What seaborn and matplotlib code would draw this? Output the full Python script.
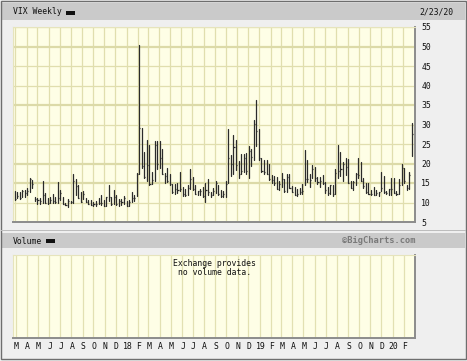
import numpy as np
import pandas as pd
import matplotlib
matplotlib.use("Agg")
import matplotlib.pyplot as plt
import matplotlib.dates as mdates
from matplotlib.patches import Rectangle
import seaborn as sns

# ---------------- data (weekly VIX, week starting Monday) ----------------
start_week = "2017-02-27"
highs = [12.9, 12.6, 12.6, 13.3, 13.1, 13.6, 16.3, 15.8, 11.4, 11.1,
         11.1, 15.6, 12.5, 11.2, 11.3, 12.1, 11.5, 15.2, 13.2, 11.4,
         10.0, 10.9, 10.5, 17.3, 15.9, 14.6, 12.6, 12.9, 11.2, 10.7,
         10.6, 10.1, 10.3, 11.1, 11.9, 10.7, 11.5, 14.5, 11.3, 13.1,
         11.9, 10.9, 10.9, 11.7, 10.3, 10.6, 12.6, 11.8, 17.5, 50.3,
         29.1, 23.0, 26.1, 24.8, 17.8, 25.7, 25.7, 25.8, 23.6, 17.6,
         18.9, 17.3, 14.8, 14.8, 15.1, 17.7, 14.0, 13.4, 14.6, 18.5,
         16.5, 14.4, 13.0, 13.4, 14.1, 14.9, 15.9, 12.8, 13.6, 15.6,
         14.6, 13.1, 12.9, 15.4, 28.8, 22.3, 27.4, 25.9, 20.6, 22.5,
         22.5, 22.7, 24.4, 23.6, 31.2, 36.2, 28.9, 21.5, 20.8, 20.9,
         19.9, 17.0, 16.7, 16.6, 15.6, 17.6, 16.1, 17.4, 17.3, 14.2,
         14.1, 13.4, 13.8, 14.8, 23.4, 20.8, 17.4, 19.7, 19.1, 16.6,
         16.6, 17.0, 15.2, 14.0, 14.5, 14.5, 18.5, 24.8, 22.9, 20.3,
         21.3, 21.2, 15.6, 15.4, 17.5, 21.5, 20.5, 16.2, 15.0, 15.0,
         13.1, 14.0, 13.3, 12.8, 17.9, 16.7, 12.9, 13.5, 16.2, 16.2,
         13.0, 15.9, 19.9, 18.9, 14.6, 17.8, 30.3]
lows = [10.6, 11.2, 11.0, 11.3, 11.5, 11.8, 12.6, 13.6, 10.3, 9.6,
        9.6, 9.9, 9.8, 9.5, 9.8, 9.9, 9.9, 9.9, 10.6, 9.5,
        9.3, 8.8, 9.8, 9.8, 11.8, 11.1, 10.1, 10.8, 10.1, 9.5,
        9.3, 9.1, 9.2, 9.5, 9.4, 9.1, 9.2, 10.4, 9.3, 9.6,
        9.3, 9.2, 9.3, 9.6, 9.1, 9.1, 10.2, 10.5, 11.6, 17.4,
        18.9, 16.3, 15.6, 14.6, 14.8, 15.4, 18.5, 18.9, 17.4, 15.0,
        15.3, 14.5, 12.4, 12.2, 12.4, 13.0, 11.6, 11.6, 11.8, 13.5,
        13.3, 12.1, 11.9, 11.9, 11.4, 10.2, 11.8, 11.5, 11.9, 12.5,
        11.9, 11.5, 11.5, 11.3, 15.0, 16.8, 17.3, 18.4, 16.2, 17.2,
        17.8, 17.4, 16.4, 19.4, 20.8, 24.5, 21.0, 17.9, 17.4, 17.2,
        15.7, 15.0, 14.5, 13.5, 13.3, 14.0, 12.6, 12.7, 13.6, 12.8,
        12.0, 11.6, 12.1, 12.3, 14.4, 15.3, 13.9, 16.2, 15.6, 14.7,
        13.9, 14.7, 12.4, 12.0, 12.1, 11.7, 12.3, 16.4, 16.8, 15.5,
        17.1, 15.0, 13.7, 13.3, 14.4, 16.2, 15.5, 13.8, 12.5, 12.2,
        11.9, 11.9, 11.8, 11.6, 13.0, 12.5, 12.1, 11.8, 12.0, 12.4,
        11.8, 12.1, 14.6, 14.9, 13.3, 13.4, 21.9]
closes = [10.96, 11.66, 11.28, 12.96, 12.37, 12.87, 15.96, 14.63, 10.82, 10.57,
          10.40, 12.04, 9.81, 9.75, 10.70, 10.38, 10.02, 11.18, 12.54, 9.51,
          9.36, 10.29, 10.03, 15.51, 14.26, 11.28, 10.13, 12.12, 10.17, 9.59,
          9.45, 9.65, 9.61, 9.97, 9.80, 9.14, 11.29, 11.43, 9.67, 11.43,
          9.58, 10.49, 10.25, 11.04, 9.22, 10.16, 11.27, 11.08, 17.31, 29.06,
          19.46, 16.49, 19.59, 14.64, 15.80, 24.87, 19.97, 21.49, 17.41, 16.88,
          15.41, 14.77, 12.65, 13.42, 13.22, 13.46, 12.18, 11.98, 13.77, 16.09,
          13.37, 12.18, 12.86, 13.03, 11.64, 13.16, 12.64, 11.99, 12.86, 14.88,
          12.07, 11.68, 12.12, 14.82, 21.31, 19.89, 24.16, 19.51, 17.36, 18.14,
          21.52, 18.07, 23.23, 21.63, 30.11, 28.34, 21.38, 18.19, 17.80, 17.42,
          16.14, 15.72, 14.91, 13.51, 14.63, 16.05, 12.88, 16.48, 13.71, 12.82,
          12.01, 12.09, 12.73, 12.87, 16.04, 15.96, 15.85, 18.71, 16.30, 15.28,
          15.40, 15.08, 13.28, 12.39, 14.45, 12.16, 17.61, 17.97, 18.47, 19.87,
          18.98, 15.00, 13.74, 15.32, 17.22, 17.04, 15.58, 14.25, 12.65, 12.30,
          12.07, 12.05, 12.34, 12.62, 13.62, 12.63, 12.51, 13.43, 13.43, 12.56,
          12.10, 14.56, 18.84, 15.47, 13.68, 17.08, 27.6]
y_ticks = [55, 50, 45, 40, 35, 30, 25, 20, 15, 10, 5]
thick_levels = [50, 35, 20, 15]
month_labels = ["M", "A", "M", "J", "J", "A", "S", "O", "N", "D",
                "18", "F", "M", "A", "M", "J", "J", "A", "S", "O", "N", "D",
                "19", "F", "M", "A", "M", "J", "J", "A", "S", "O", "N", "D",
                "20", "F"]
title_text = "VIX Weekly"
date_text = "2/23/20"
volume_title = "Volume"
credit_text = "\u00a9BigCharts.com"
no_volume_text = "Exchange provides\nno volume data."

# ---------------- frame ----------------
sns.set_style("white")
plt.rcParams["font.family"] = ["DejaVu Sans Mono", "DejaVu Sans"]

W, H = 467, 361
fig = plt.figure(figsize=(W / 100, H / 100), dpi=100)
fig.patch.set_facecolor("#efefef")


def rect_px(x0, y0, x1, y1, **kw):
    fig.add_artist(Rectangle((x0 / W, 1 - y1 / H), (x1 - x0) / W, (y1 - y0) / H,
                             transform=fig.transFigure, **kw))


def ax_px(x0, y0, x1, y1):
    return fig.add_axes([x0 / W, 1 - y1 / H, (x1 - x0) / W, (y1 - y0) / H])


# header bars
rect_px(2, 3, 465, 20, facecolor="#cacaca", edgecolor="none")
rect_px(2, 233, 465, 248, facecolor="#cacaca", edgecolor="none")
# outer border
rect_px(0.5, 0.5, 465.5, 359, facecolor="none", edgecolor="#6e6e6e", lw=1.0)
rect_px(0.5, 229.5, 465.5, 230.5, facecolor="#bdbdbd", edgecolor="none")

fs = 5.9
fig.text(13 / W, 1 - 12 / H, title_text, fontsize=fs, va="center", ha="left", color="#111111")
rect_px(65.5, 11, 75, 14.5, facecolor="#111111", edgecolor="none")
fig.text(453 / W, 1 - 12 / H, date_text, fontsize=fs, va="center", ha="right", color="#111111")
fig.text(13 / W, 1 - 241 / H, volume_title, fontsize=fs, va="center", ha="left", color="#111111")
rect_px(46, 239, 55, 242.5, facecolor="#111111", edgecolor="none")
fig.text(415 / W, 1 - 240.5 / H, credit_text, fontsize=6.3, va="center", ha="right",
         color="#7a7a7a", fontweight="bold")

# ---------------- data frames ----------------
weeks = pd.date_range(start_week, periods=len(highs), freq="7D")
df = pd.DataFrame({"week": weeks, "high": highs, "low": lows, "close": closes})
long = df.melt(id_vars="week", value_vars=["low", "high"], value_name="value")
long["id"] = long["week"].astype("int64")

months = pd.date_range("2017-03-01", periods=len(month_labels), freq="MS")
xl = (weeks[0] - pd.Timedelta(days=4.2), weeks[-1] + pd.Timedelta(days=7.7))

grid_c = "#e0deae"
thick_c = "#dcdaa8"
fill_c = "#fefee6"

# ---------------- price panel ----------------
ax = ax_px(13, 27, 414.5, 222)
ax.set_facecolor(fill_c)
for m in months:
    ax.axvline(m, color=grid_c, lw=0.9, zorder=1)
for v in y_ticks:
    ax.axhline(v, color=thick_c if v in thick_levels else grid_c,
               lw=1.6 if v in thick_levels else 0.9, zorder=1)

sns.lineplot(data=long, x="week", y="value", units="id", estimator=None,
             color="#2b2b2b", lw=0.9, ax=ax, legend=False, zorder=3)
ax.hlines(df["close"], df["week"], df["week"] + pd.Timedelta(days=3),
          color="#2b2b2b", lw=0.9, zorder=3)

ax.set_xlim(*xl)
ax.set_ylim(5, 55)
ax.set_xlabel("")
ax.set_ylabel("")
ax.set_xticks([])
ax.yaxis.tick_right()
ax.set_yticks(y_ticks)
ax.set_yticklabels([str(v) for v in y_ticks], fontsize=fs, color="#111111")
ax.tick_params(axis="y", length=0, pad=5)
for s in ["top", "left"]:
    ax.spines[s].set_color("#e6e4bc")
    ax.spines[s].set_linewidth(0.8)
for s in ["right", "bottom"]:
    ax.spines[s].set_color("#8c8c8c")
    ax.spines[s].set_linewidth(1.4)

# ---------------- volume panel ----------------
ax2 = ax_px(13.3, 255, 415, 338)
ax2.set_facecolor(fill_c)
for m in months:
    ax2.axvline(m, color="#e2e0b2", lw=0.9, zorder=1)
ax2.set_xlim(*xl)
ax2.set_ylim(0, 1)
ax2.set_yticks([])
ax2.set_xticks(months + pd.Timedelta(days=2))
ax2.set_xticklabels(month_labels, fontsize=fs, color="#111111")
ax2.tick_params(axis="x", length=0, pad=3)
ax2.text(0.5, 0.84, no_volume_text, transform=ax2.transAxes, ha="center", va="center",
         fontsize=fs, color="#111111", linespacing=1.0)
for s in ["top", "left"]:
    ax2.spines[s].set_color("#e6e4bc")
    ax2.spines[s].set_linewidth(0.8)
for s in ["right", "bottom"]:
    ax2.spines[s].set_color("#8c8c8c")
    ax2.spines[s].set_linewidth(1.4)

fig.savefig("out.png", dpi=100, facecolor=fig.get_facecolor())
